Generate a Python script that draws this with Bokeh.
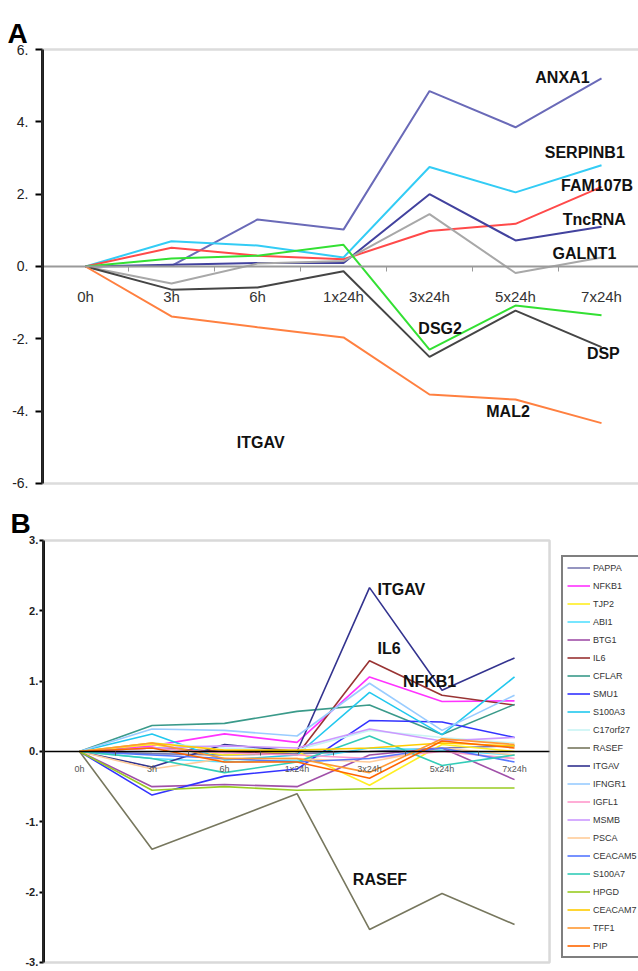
from bokeh.plotting import figure
from bokeh.models import Range1d, LinearAxis, FixedTicker, Label, Legend, LegendItem, BoxAnnotation
from bokeh.layouts import column
from bokeh.embed import file_html
from bokeh.resources import INLINE

FONT = "Liberation Sans"

categories = ["0h", "3h", "6h", "1x24h", "3x24h", "5x24h", "7x24h"]

# ---------------- Panel A data ----------------
a_names = ["ANXA1", "SERPINB1", "FAM107B", "TncRNA", "GALNT1", "DSG2", "DSP", "MAL2"]
ANXA1 = [0, 0.02, 1.3, 1.02, 4.85, 3.85, 5.2]
SERPINB1 = [0, 0.7, 0.58, 0.25, 2.75, 2.05, 2.8]
FAM107B = [0, 0.52, 0.3, 0.2, 0.98, 1.18, 2.2]
TncRNA = [0, 0.05, 0.1, 0.1, 2.0, 0.72, 1.1]
GALNT1 = [0, -0.47, 0.08, 0.15, 1.45, -0.18, 0.25]
DSG2 = [0, 0.22, 0.3, 0.6, -2.3, -1.08, -1.35]
DSP = [0, -0.64, -0.58, -0.13, -2.5, -1.22, -2.23]
MAL2 = [0, -1.38, -1.68, -1.96, -3.54, -3.68, -4.33]
a_values = [ANXA1, SERPINB1, FAM107B, TncRNA, GALNT1, DSG2, DSP, MAL2]
a_colors = ["#6a6ab8", "#33ccf5", "#ff4a4a", "#42429e", "#a8a8a8", "#33e033", "#454545", "#ff8040"]
a_label_text = ["ANXA1", "SERPINB1", "FAM107B", "TncRNA", "GALNT1", "DSG2", "DSP", "MAL2", "ITGAV"]
a_label_x = [5.23, 5.34, 5.53, 5.55, 5.43, 3.87, 5.83, 4.66, 1.76]
a_label_y = [5.22, 3.15, 2.24, 1.30, 0.36, -1.71, -2.40, -4.0, -4.86]
a_yticks = [-6, -4, -2, 0, 2, 4, 6]

# ---------------- Panel B data ----------------
b_names = ["PAPPA", "NFKB1", "TJP2", "ABI1", "BTG1", "IL6", "CFLAR", "SMU1", "S100A3",
           "C17orf27", "RASEF", "ITGAV", "IFNGR1", "IGFL1", "MSMB", "PSCA", "CEACAM5",
           "S100A7", "HPGD", "CEACAM7", "TFF1", "PIP"]
PAPPA = [0, -0.03, -0.05, -0.03, 0.0, 0.05, 0.08]
NFKB1 = [0, 0.08, 0.25, 0.13, 1.06, 0.71, 0.72]
TJP2 = [0, 0.1, -0.05, 0.0, -0.48, 0.1, 0.0]
ABI1 = [0, -0.1, -0.15, -0.12, 0.05, 0.02, -0.05]
BTG1 = [0, -0.5, -0.47, -0.5, -0.05, 0.05, -0.4]
IL6 = [0, 0.05, 0.0, -0.05, 1.29, 0.8, 0.66]
CFLAR = [0, 0.37, 0.4, 0.57, 0.66, 0.24, 0.67]
SMU1 = [0, -0.62, -0.35, -0.25, 0.44, 0.42, 0.2]
S100A3 = [0, 0.25, -0.12, -0.05, 0.84, 0.24, 1.06]
C17orf27 = [0, 0.12, 0.05, 0.02, 0.3, 0.2, 0.12]
RASEF = [0, -1.39, -1.0, -0.6, -2.53, -2.02, -2.46]
ITGAV = [0, -0.22, 0.1, 0.0, 2.33, 0.87, 1.33]
IFNGR1 = [0, 0.32, 0.3, 0.22, 0.97, 0.3, 0.8]
IGFL1 = [0, 0.05, -0.02, -0.05, -0.1, 0.0, -0.1]
MSMB = [0, 0.05, 0.08, 0.05, 0.32, 0.15, 0.2]
PSCA = [0, -0.25, -0.1, -0.1, -0.15, 0.05, -0.05]
CEACAM5 = [0, -0.05, -0.1, -0.15, -0.1, 0.05, -0.15]
S100A7 = [0, -0.1, -0.3, -0.15, 0.22, -0.2, -0.05]
HPGD = [0, -0.55, -0.5, -0.55, -0.53, -0.52, -0.52]
CEACAM7 = [0, 0.12, 0.02, 0.02, 0.05, 0.12, 0.08]
TFF1 = [0, 0.12, -0.1, -0.1, -0.3, 0.18, 0.1]
PIP = [0, 0.05, -0.15, -0.15, -0.38, 0.15, 0.05]
b_values = [PAPPA, NFKB1, TJP2, ABI1, BTG1, IL6, CFLAR, SMU1, S100A3, C17orf27, RASEF,
            ITGAV, IFNGR1, IGFL1, MSMB, PSCA, CEACAM5, S100A7, HPGD, CEACAM7, TFF1, PIP]
b_colors = ["#7a7ab0", "#ff33ff", "#ffee22", "#55e0ff", "#a050a8", "#993333", "#3a9a8a",
            "#3333ff", "#22c8ee", "#c8f4f4", "#77775e", "#33338f", "#99ccff", "#ff99cc",
            "#cc99ff", "#ffcc99", "#5577ff", "#33ccb8", "#99cc22", "#ffcc00", "#ff9933",
            "#ff6600"]
b_label_text = ["ITGAV", "IL6", "NFKB1", "RASEF"]
b_label_x = [4.11, 4.11, 4.46, 3.77]
b_label_y = [2.30, 1.47, 1.0, -1.82]
b_yticks = [-3, -2, -1, 0, 1, 2, 3]

xs = list(range(len(categories)))


def common_fig(w, h, xr, yr):
    p = figure(width=w, height=h, output_backend="svg", toolbar_location=None,
               x_range=xr, y_range=yr, x_axis_type=None, y_axis_type=None,
               min_border_left=0, min_border_right=0, min_border_top=0, min_border_bottom=0)
    p.outline_line_color = None
    p.background_fill_color = "white"
    p.border_fill_color = "white"
    return p


# ---------------- Panel A ----------------
pa = common_fig(638, 498, Range1d(-0.988, 6.430), Range1d(-6.415, 7.355))

pa.add_layout(BoxAnnotation(left=-0.5, right=8, top=6, bottom=-6, fill_alpha=0,
                            line_color="#8a8a8a", line_width=2.5))

ya = LinearAxis(fixed_location=-0.5, bounds=(-6, 6),
                ticker=FixedTicker(ticks=a_yticks),
                major_label_overrides={v: f"{v}." for v in a_yticks},
                axis_line_width=3, axis_line_color="black",
                major_tick_out=7, major_tick_in=0, major_tick_line_width=2,
                major_tick_line_color="black", minor_tick_line_color=None,
                major_label_standoff=7, major_label_text_font=FONT,
                major_label_text_font_size="14px", major_label_text_color="#222222")
pa.add_layout(ya, "left")

xa = LinearAxis(fixed_location=0, bounds=(-0.5, 6.43),
                ticker=FixedTicker(ticks=xs, minor_ticks=[i + 0.5 for i in range(6)]),
                major_label_overrides={i: c for i, c in enumerate(categories)},
                axis_line_color="#9a9a9a", axis_line_width=2,
                major_tick_line_color=None, major_tick_out=0, major_tick_in=0,
                minor_tick_out=5, minor_tick_in=0, minor_tick_line_color="#9a9a9a",
                minor_tick_line_width=1,
                major_label_standoff=17, major_label_text_font=FONT,
                major_label_text_font_size="15px", major_label_text_color="#333333")
pa.add_layout(xa, "below")

for vals, col in zip(a_values, a_colors):
    pa.line(x=xs, y=vals, line_color=col, line_width=2)

for t, x, y in zip(a_label_text, a_label_x, a_label_y):
    pa.add_layout(Label(x=x, y=y, text=t, text_font=FONT, text_font_size="16px",
                        text_font_style="bold", text_color="#111111",
                        text_align="left", text_baseline="middle"))

pa.add_layout(Label(x=-0.907, y=6.44, text="A", text_font=FONT, text_font_size="28px",
                    text_font_style="bold", text_color="black",
                    text_baseline="alphabetic", text_align="left"))

# ---------------- Panel B ----------------
pb = common_fig(638, 473, Range1d(-1.090, 7.710), Range1d(-3.128, 3.597))

pb.add_layout(BoxAnnotation(left=-0.5, right=6.483, top=3, bottom=-3, fill_alpha=0,
                            line_color="#808080", line_width=2.5))

yb = LinearAxis(fixed_location=-0.5, bounds=(-3, 3),
                ticker=FixedTicker(ticks=b_yticks),
                major_label_overrides={v: f"{v}." for v in b_yticks},
                axis_line_width=3, axis_line_color="black",
                major_tick_out=4, major_tick_in=0, major_tick_line_width=2,
                major_tick_line_color="black", minor_tick_line_color=None,
                major_label_standoff=1, major_label_text_font=FONT,
                major_label_text_font_size="11px", major_label_text_font_style="bold",
                major_label_text_color="#222222")
pb.add_layout(yb, "left")

xb = LinearAxis(fixed_location=0, bounds=(-0.5, 6.483),
                ticker=FixedTicker(ticks=xs, minor_ticks=[i + 0.5 for i in range(6)]),
                major_label_overrides={i: c for i, c in enumerate(categories)},
                axis_line_color="black", axis_line_width=1.5,
                major_tick_line_color=None, major_tick_out=0, major_tick_in=0,
                minor_tick_out=4, minor_tick_in=0, minor_tick_line_color="#555555",
                minor_tick_line_width=1,
                major_label_standoff=9, major_label_text_font=FONT,
                major_label_text_font_size="9px", major_label_text_color="#555555")
pb.add_layout(xb, "below")

items = []
for name, vals, col in zip(b_names, b_values, b_colors):
    r = pb.line(x=xs, y=vals, line_color=col, line_width=1.6)
    items.append(LegendItem(label=name, renderers=[r]))

leg = Legend(items=items, location=(561, 13), margin=0, padding=4, spacing=5,
             glyph_width=23, glyph_height=13, label_height=13, label_standoff=3,
             label_text_font=FONT, label_text_font_size="9px", label_text_color="#333333",
             border_line_color="black", border_line_width=2,
             background_fill_color="white", background_fill_alpha=1.0)
pb.add_layout(leg)

for t, x, y in zip(b_label_text, b_label_x, b_label_y):
    pb.add_layout(Label(x=x, y=y, text=t, text_font=FONT, text_font_size="16px",
                        text_font_style="bold", text_color="#111111",
                        text_align="left", text_baseline="middle"))

pb.add_layout(Label(x=-0.952, y=3.238, text="B", text_font=FONT, text_font_size="28px",
                    text_font_style="bold", text_color="black",
                    text_baseline="alphabetic", text_align="left"))

layout = column(pa, pb, spacing=0)
open("out.html", "w").write(file_html(layout, INLINE))
